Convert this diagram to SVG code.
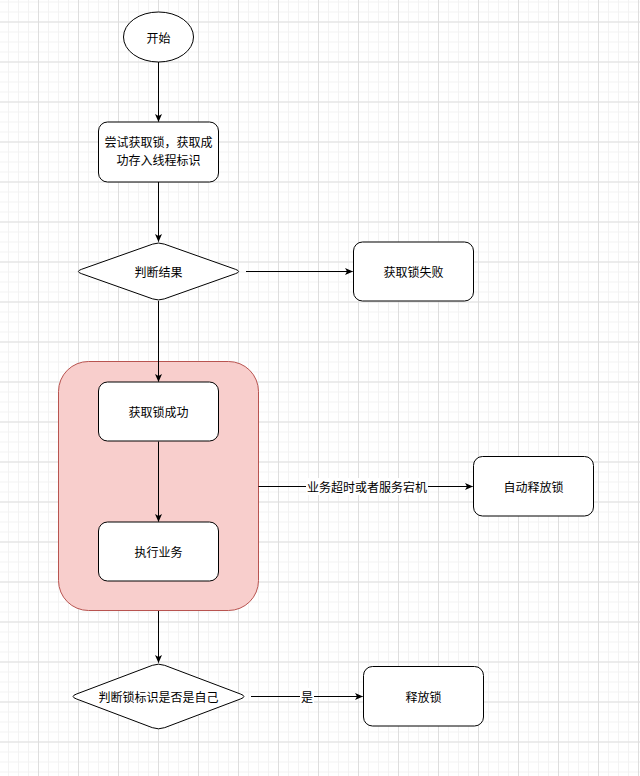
<svg xmlns="http://www.w3.org/2000/svg" width="640" height="776" viewBox="0 0 640 776">
<defs>
<pattern id="minor" x="8" y="1.5" width="10" height="10" patternUnits="userSpaceOnUse">
<path d="M0.5,0 V10 M0,0.5 H10" fill="none" stroke="#f3f3f3" stroke-width="1"/>
</pattern>
<pattern id="major" x="38" y="21.5" width="40" height="40" patternUnits="userSpaceOnUse">
<path d="M0.5,0 V40 M0,0.5 H40" fill="none" stroke="#dedede" stroke-width="1"/>
</pattern>
<marker id="arr" viewBox="0 0 8 8" markerWidth="8" markerHeight="8" refX="7.5" refY="4" orient="auto" markerUnits="userSpaceOnUse">
<path d="M0,0.5 L8,4 L0,7.5 L2,4 z" fill="#000"/>
</marker>
<style>
.node{fill:#fff;stroke:#000;stroke-width:1}
.t{font-family:"Noto Sans CJK SC","Noto Sans",sans-serif;font-size:12px;fill:#000;text-anchor:middle;dominant-baseline:central}
.edge{fill:none;stroke:#000;stroke-width:1}
</style>
</defs>
<rect width="640" height="776" fill="#fff"/>
<rect width="640" height="776" fill="url(#minor)"/>
<rect width="640" height="776" fill="url(#major)"/>

<g id="container">
<rect x="58.5" y="361.5" width="200" height="249" rx="30" ry="30" fill="#f8cecc" stroke="#b85450" stroke-width="1"/>
</g>

<g id="connectors">
<line class="edge" x1="158.5" y1="62" x2="158.5" y2="121.5" marker-end="url(#arr)"/>
<line class="edge" x1="158.5" y1="182" x2="158.5" y2="241.5" marker-end="url(#arr)"/>
<line class="edge" x1="246" y1="271.5" x2="352.5" y2="271.5" marker-end="url(#arr)"/>
<line class="edge" x1="158.5" y1="301" x2="158.5" y2="381.5" marker-end="url(#arr)"/>
<line class="edge" x1="158.5" y1="441.5" x2="158.5" y2="521.5" marker-end="url(#arr)"/>
<line class="edge" x1="258.5" y1="486.5" x2="472.5" y2="486.5" marker-end="url(#arr)"/>
<rect x="306" y="478" width="122" height="17" fill="#fff"/>
<text class="t" x="367" y="486.5">业务超时或者服务宕机</text>
<line class="edge" x1="158.5" y1="611" x2="158.5" y2="662.5" marker-end="url(#arr)"/>
<line class="edge" x1="251" y1="696.5" x2="362.5" y2="696.5" marker-end="url(#arr)"/>
<rect x="300" y="688" width="14" height="17" fill="#fff"/>
<text class="t" x="307" y="696.5">是</text>
</g>

<g id="start">
<ellipse class="node" cx="158.5" cy="37" rx="35" ry="25"/>
<text class="t" x="158.5" y="37">开始</text>
</g>

<g id="try-lock">
<rect class="node" x="98.5" y="122" width="120" height="60" rx="9" ry="9"/>
<text class="t" x="158.5" y="141.5">尝试获取锁，获取成</text>
<text class="t" x="158.5" y="159.5">功存入线程标识</text>
</g>

<g id="judge-result">
<path class="node" d="M164.3,244.1 L235.7,269.4 Q241.5,271.5 235.7,273.6 L164.3,298.9 Q158.5,301 152.7,298.9 L81.3,273.6 Q75.5,271.5 81.3,269.4 L152.7,244.1 Q158.5,242 164.3,244.1 Z"/>
<text class="t" x="158.5" y="271.5">判断结果</text>
</g>

<g id="lock-fail">
<rect class="node" x="353.5" y="242" width="120" height="59" rx="9" ry="9"/>
<text class="t" x="413.5" y="271.5">获取锁失败</text>
</g>

<g id="lock-success">
<rect class="node" x="98.5" y="382" width="120" height="59" rx="9" ry="9"/>
<text class="t" x="158.5" y="411.5">获取锁成功</text>
</g>

<g id="do-business">
<rect class="node" x="98.5" y="522" width="120" height="59" rx="9" ry="9"/>
<text class="t" x="158.5" y="551.5">执行业务</text>
</g>

<g id="auto-release">
<rect class="node" x="473.5" y="456.5" width="120" height="59.5" rx="9" ry="9"/>
<text class="t" x="533.5" y="486.5">自动释放锁</text>
</g>

<g id="judge-owner">
<path class="node" d="M164.7,665.35 L240.8,694.15 Q247,696.5 240.8,698.85 L164.7,727.65 Q158.5,730 152.3,727.65 L76.2,698.85 Q70,696.5 76.2,694.15 L152.3,665.35 Q158.5,663 164.7,665.35 Z"/>
<text class="t" x="158.5" y="696.5">判断锁标识是否是自己</text>
</g>

<g id="release">
<rect class="node" x="363.5" y="666.5" width="120" height="59.5" rx="9" ry="9"/>
<text class="t" x="423.5" y="696.5">释放锁</text>
</g>
</svg>
